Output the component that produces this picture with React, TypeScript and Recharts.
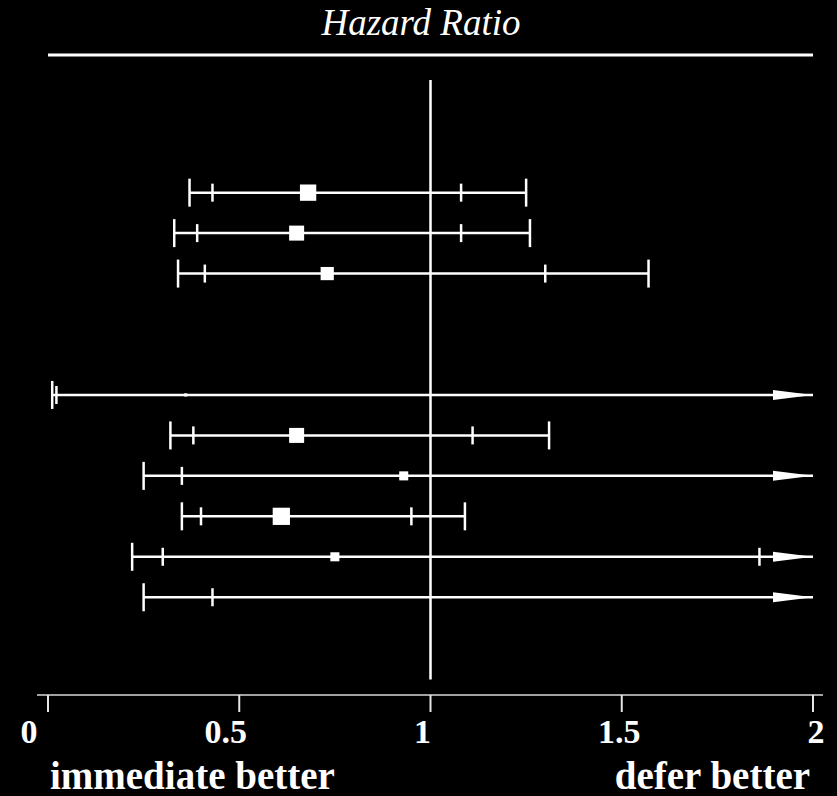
import { ScatterChart, Scatter, XAxis, YAxis, ReferenceLine } from 'recharts';

// row slots (top to bottom); slots 3 and 4 are left empty as a gap
const rowSlots = [0, 1, 2, 5, 6, 7, 8, 9, 10];
const hazardRatio = [0.68, 0.65, 0.73, 0.36, 0.65, 0.93, 0.61, 0.75, null];
const studyWeight = [0.26, 0.22, 0.17, 0.01, 0.22, 0.08, 0.29, 0.08, 0];
// outer interval (long caps)
const outerLower = [0.37, 0.33, 0.34, 0.011, 0.32, 0.25, 0.35, 0.22, 0.25];
const outerUpper = [1.25, 1.26, 1.57, 9.5, 1.31, 3.4, 1.09, 2.6, 3.0];
// inner interval (short ticks)
const innerLower = [0.43, 0.39, 0.41, 0.022, 0.38, 0.35, 0.4, 0.3, 0.43];
const innerUpper = [1.08, 1.08, 1.3, 5.8, 1.11, 2.5, 0.95, 1.86, 2.2];

const xTicks = [0, 0.5, 1, 1.5, 2];
const xTickLabels = ['0', '0.5', '1', '1.5', '2'];

const X_MAX = 2;
const FONT = "'Liberation Serif', 'Times New Roman', Times, 'DejaVu Serif', serif";
const WHITE = '#ffffff';

const rows = rowSlots.map((slot, i) => ({
  slot,
  hr: hazardRatio[i],
  weight: studyWeight[i],
  lo: outerLower[i],
  hi: outerUpper[i],
  ilo: innerLower[i],
  ihi: innerUpper[i],
}));

const pick = (key: 'lo' | 'hi' | 'ilo' | 'ihi') =>
  rows.filter((r) => r[key] <= X_MAX).map((r) => ({ x: r[key], y: r.slot }));

const outerCaps = [...pick('lo'), ...pick('hi')];
const innerTicks = [...pick('ilo'), ...pick('ihi')];
const points = rows
  .filter((r) => r.hr !== null && r.weight > 0)
  .map((r) => ({ x: r.hr as number, y: r.slot, weight: r.weight }));
const arrows = rows.filter((r) => r.hi > X_MAX).map((r) => ({ x: X_MAX, y: r.slot }));

const makeCap = (half: number) => (props: any) => {
  const { cx, cy } = props;
  return <line x1={cx} x2={cx} y1={cy - half} y2={cy + half} stroke={WHITE} strokeWidth={2.5} />;
};

const Box = (props: any) => {
  const { cx, cy, payload } = props;
  const side = Math.sqrt(payload.weight) * 32;
  return <rect x={cx - side / 2} y={cy - side / 2} width={side} height={side} fill={WHITE} />;
};

const Arrow = (props: any) => {
  const { cx, cy } = props;
  return <polygon points={`${cx},${cy} ${cx - 40},${cy - 5} ${cx - 40},${cy + 5}`} fill={WHITE} />;
};

const AxisTick = (props: any) => {
  const { x, y, payload, index } = props;
  const v = payload.value as number;
  return (
    <text
      x={x + (v - 1) * 11 - 8}
      y={y + 31}
      textAnchor="middle"
      fill={WHITE}
      style={{ fontFamily: FONT, fontWeight: 'bold', fontSize: 34 }}
    >
      {xTickLabels[index]}
    </text>
  );
};

export default function App() {
  return (
    <div style={{ position: 'absolute', left: 0, top: 0, width: 837, height: 796, background: '#000' }}>
      <ScatterChart width={837} height={796} margin={{ top: 47, right: 14, bottom: 0, left: 37 }}>
        <XAxis
          type="number"
          dataKey="x"
          domain={[0, X_MAX]}
          ticks={xTicks}
          allowDataOverflow
          padding={{ left: 11, right: 10 }}
          height={101}
          tickSize={17}
          tickMargin={0}
          axisLine={{ stroke: '#d9d9d9', strokeWidth: 1.5 }}
          tickLine={{ stroke: '#e6e6e6', strokeWidth: 2 }}
          tick={<AxisTick />}
        />
        <YAxis type="number" dataKey="y" domain={[-3.6, 12.416]} reversed hide width={0} allowDataOverflow />

        {/* header rule under the title */}
        <ReferenceLine
          segment={[{ x: 0, y: -3.4 }, { x: X_MAX, y: -3.4 }]}
          stroke={WHITE}
          strokeWidth={3}
          ifOverflow="visible"
        />
        {/* line of no effect */}
        <ReferenceLine
          segment={[{ x: 1, y: -2.785 }, { x: 1, y: 12.03 }]}
          stroke={WHITE}
          strokeWidth={2.5}
          ifOverflow="visible"
        />
        {rows.map((r) => (
          <ReferenceLine
            key={`ci-${r.slot}`}
            segment={[{ x: r.lo, y: r.slot }, { x: Math.min(r.hi, X_MAX), y: r.slot }]}
            stroke={WHITE}
            strokeWidth={2.5}
            ifOverflow="visible"
          />
        ))}

        <Scatter data={outerCaps} shape={makeCap(14)} isAnimationActive={false} />
        <Scatter data={innerTicks} shape={makeCap(9)} isAnimationActive={false} />
        <Scatter data={points} shape={<Box />} isAnimationActive={false} />
        <Scatter data={arrows} shape={<Arrow />} isAnimationActive={false} />
      </ScatterChart>

      <svg
        width={837}
        height={796}
        style={{ position: 'absolute', left: 0, top: 0, pointerEvents: 'none' }}
      >
        <text
          x={421}
          y={35}
          textAnchor="middle"
          fill={WHITE}
          style={{ fontFamily: FONT, fontStyle: 'italic', fontSize: 37 }}
        >
          Hazard Ratio
        </text>
        <text x={50} y={789} fill={WHITE} style={{ fontFamily: FONT, fontWeight: 'bold', fontSize: 39 }}>
          immediate better
        </text>
        <text
          x={810}
          y={789}
          textAnchor="end"
          fill={WHITE}
          style={{ fontFamily: FONT, fontWeight: 'bold', fontSize: 39 }}
        >
          defer better
        </text>
      </svg>
    </div>
  );
}
